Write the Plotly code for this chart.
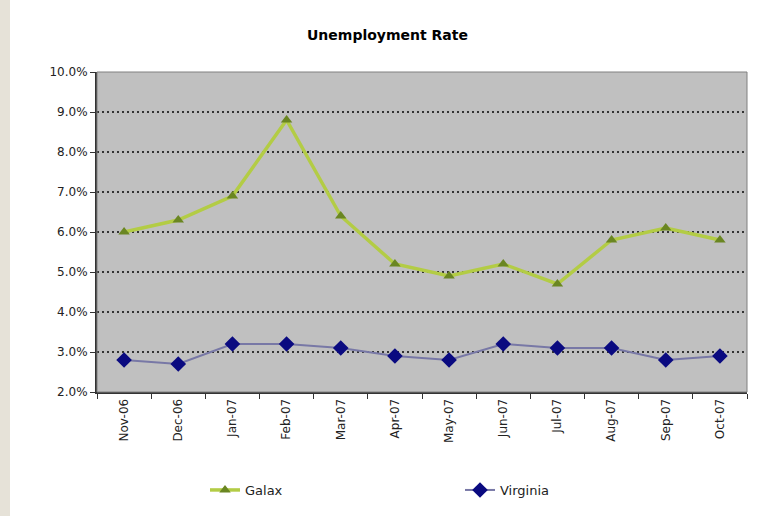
import plotly.graph_objects as go

months = ["Nov-06", "Dec-06", "Jan-07", "Feb-07", "Mar-07", "Apr-07",
          "May-07", "Jun-07", "Jul-07", "Aug-07", "Sep-07", "Oct-07"]
galax = [6.0, 6.3, 6.9, 8.8, 6.4, 5.2, 4.9, 5.2, 4.7, 5.8, 6.1, 5.8]
virginia = [2.8, 2.7, 3.2, 3.2, 3.1, 2.9, 2.8, 3.2, 3.1, 3.1, 2.8, 2.9]
y_ticks = [2, 3, 4, 5, 6, 7, 8, 9, 10]

font_family = "DejaVu Sans, sans-serif"

fig = go.Figure()

fig.add_trace(go.Scatter(
    x=months, y=galax, name="Galax",
    mode="lines+markers",
    line=dict(color="#b3cc45", width=3.5),
    marker=dict(symbol="triangle-up", size=10, color="#6a8622"),
))

fig.add_trace(go.Scatter(
    x=months, y=virginia, name="Virginia",
    mode="lines+markers",
    line=dict(color="#7878a6", width=2),
    marker=dict(symbol="diamond", size=12, color="#0a0a80"),
))

fig.update_layout(
    width=775, height=516,
    margin=dict(l=97, r=28, t=72, b=124),
    paper_bgcolor="white",
    plot_bgcolor="#c0c0c0",
    title=dict(text="<b>Unemployment Rate</b>", x=0.5, xanchor="center",
               y=1 - 35 / 516, yanchor="middle",
               font=dict(family=font_family, size=14, color="black")),
    font=dict(family=font_family, size=12, color="#222222"),
    showlegend=True,
    legend=dict(orientation="h", xref="container", yref="container",
                x=205 / 775, xanchor="left",
                y=1 - 490 / 516, yanchor="middle",
                font=dict(size=13, color="#222222"),
                traceorder="normal", entrywidth=210),
    shapes=[
        dict(type="rect", xref="paper", yref="paper", x0=0, x1=1, y0=0, y1=1,
             line=dict(color="#808080", width=1), fillcolor="rgba(0,0,0,0)"),
        dict(type="rect", xref="paper", yref="paper", x0=-97 / 650, x1=-87 / 650,
             y0=-124 / 320, y1=1 + 72 / 320,
             line=dict(width=0), fillcolor="#e6e2d8", layer="below"),
    ],
)

fig.update_xaxes(
    type="category",
    range=[-0.5, len(months) - 0.5],
    tickangle=-90,
    tickson="boundaries",
    ticks="outside", ticklen=5, tickcolor="#333333",
    showline=True, linecolor="#333333", linewidth=2,
    showgrid=False, zeroline=False, automargin=False,
    tickfont=dict(size=12),
)

fig.update_yaxes(
    range=[2, 10],
    tickvals=y_ticks,
    ticktext=[f"{v:.1f}%" for v in y_ticks],
    ticks="outside", ticklen=5, tickcolor="#333333",
    showline=True, linecolor="#333333", linewidth=2,
    showgrid=True, gridcolor="#333333", gridwidth=1.5, griddash="2px,3px",
    zeroline=False, automargin=False,
    tickfont=dict(size=12),
)

fig.write_html("out.html", config={"displayModeBar": False},
               post_script="document.body.style.margin='0px';")
